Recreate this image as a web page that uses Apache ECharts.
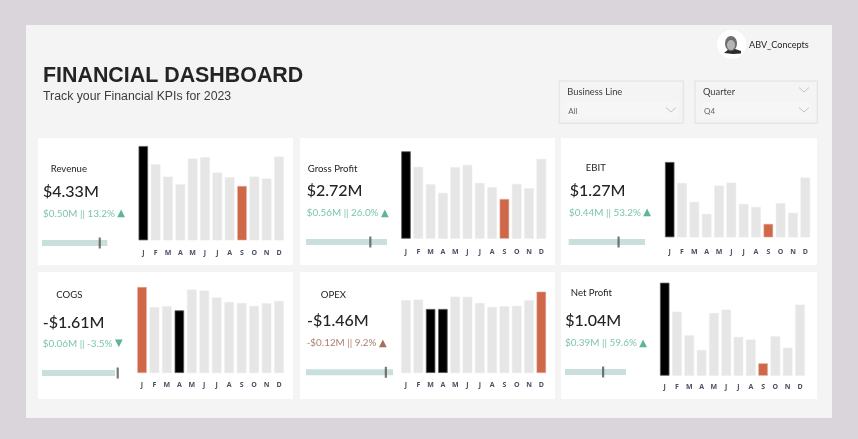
<!DOCTYPE html>
<html>
<head>
<meta charset="utf-8">
<style>html,body{margin:0;padding:0;background:#d9d5da}#c{width:858px;height:439px}</style>
<script src="https://cdn.jsdelivr.net/npm/echarts@6/dist/echarts.min.js"></script>
</head>
<body>
<div id="c"></div>
<script>
const months = ['J','F','M','A','M','J','J','A','S','O','N','D'];
const kpiNames = ['Revenue','Gross Profit','EBIT','COGS','OPEX','Net Profit'];
const kpiValues = ['$4.33M','$2.72M','$1.27M','-$1.61M','-$1.46M','$1.04M'];
const kpiDeltas = ['$0.50M || 13.2%','$0.56M || 26.0%','$0.44M || 53.2%','$0.06M || -3.5%','-$0.12M || 9.2%','$0.39M || 59.6%'];
const kpiArrows = ['▲','▲','▲','▼','▲','▲'];
const revenue = [1.953,1.573,1.318,1.159,1.691,1.718,1.401,1.304,1.125,1.318,1.277,1.732];
const grossProfit = [1.286,1.056,0.800,0.673,1.051,1.085,0.820,0.756,0.584,0.805,0.741,1.173];
const ebit = [0.811,0.585,0.381,0.251,0.556,0.589,0.359,0.327,0.144,0.366,0.262,0.643];
const cogs = [0.663,0.506,0.514,0.483,0.643,0.635,0.581,0.547,0.540,0.517,0.537,0.555];
const opex = [0.480,0.484,0.423,0.423,0.504,0.502,0.462,0.436,0.440,0.443,0.480,0.537];
const netProfit = [0.699,0.481,0.303,0.193,0.471,0.496,0.291,0.271,0.093,0.296,0.210,0.534];
const blackMonths = [[0],[0],[0],[3],[2,3],[0]];
const redMonths = [[8],[8],[8],[0],[11],[8]];
const actual = [4.33,2.72,1.27,1.61,1.46,1.04];
const target = [3.83,2.16,0.83,1.67,1.34,0.65];

const series6 = [revenue,grossProfit,ebit,cogs,opex,netProfit];
const FONT = 'Lato,"Open Sans",sans-serif';
const GREEN = '#7cc5a9', GREENT = '#5cb596', BROWN = '#ab7f70', BROWNT = '#a2705c';

// layout of each card, in pixels
const L = [
 {card:[38,138,255,127],  bar:[138.3,146,145.7,94.3],  lm:9.5, tick:[42,240,65.3],  name:[50.7,169],  val:[43,192],   d:[43,213.7]},
 {card:[300,138,255,127], bar:[401,151.3,145.3,87.4],  lm:10,  tick:[306,239,81],   name:[307.7,169], val:[306.7,191],d:[306.7,213]},
 {card:[561,138,256,127], bar:[664.7,162,145.6,75.3],  lm:11,  tick:[568.7,239,76.3],name:[585.7,168],val:[569.7,190.7],d:[569,212.7]},
 {card:[38,272,255,127],  bar:[137,287,147,86],        lm:8,   tick:[42,370,73],    name:[56.3,295.3],val:[42.7,323], d:[42.7,343.7]},
 {card:[300,272,255,127], bar:[401,291.7,145.3,81.3],  lm:8,   tick:[306,369.3,87], name:[320.7,295.3],val:[307,321],  d:[306.7,343.3]},
 {card:[561,272,256,127], bar:[659.7,282.7,145.3,93],  lm:7.5, tick:[565,369,61],   name:[570.7,293.3],val:[565.3,320.7],d:[565,343.3]}
];

const grid=[], xAxis=[], yAxis=[], series=[];
const txt=(x,y,t,size,color,extra)=>({type:'text',x,y,z:5,style:Object.assign({text:t,fontSize:size,fill:color,fontFamily:FONT,verticalAlign:'middle',align:'left'},extra||{})});
const graphic=[
 {type:'rect',shape:{x:26,y:25,width:806,height:393},style:{fill:'#f4f4f4'},z:0},
 {type:'text',x:43,y:76.5,z:5,style:{text:'FINANCIAL DASHBOARD',fontSize:21.4,fontWeight:'bold',fill:'#252423',fontFamily:'"Liberation Sans",Arial,sans-serif',verticalAlign:'middle'}},
 {type:'text',x:43,y:96.5,z:5,style:{text:'Track your Financial KPIs for 2023',fontSize:12.3,fill:'#3c3c3c',fontFamily:'"Liberation Sans",Arial,sans-serif',verticalAlign:'middle'}},
 {type:'circle',shape:{cx:731.7,cy:44.3,r:14.5},style:{fill:'#ffffff'},z:1},
 {type:'polygon',shape:{points:[[724,53],[729,49],[735,49],[741,51],[741,53.5],[733,54]]},style:{fill:'#2b2b2b'},z:2},
 {type:'ellipse',shape:{cx:731,cy:43.5,rx:6,ry:7.5},style:{fill:'#6e6e6e'},z:3},
 {type:'ellipse',shape:{cx:731,cy:45,rx:4,ry:5},style:{fill:'#b4b4b4'},z:3},
 txt(749,45,'ABV_Concepts',9.1,'#252423')
];
const chevron=(cx,cy)=>({type:'polyline',z:4,shape:{points:[[cx-5,cy-2.5],[cx,cy+2],[cx+5,cy-2.5]]},style:{stroke:'#c4c4c4',lineWidth:1,fill:null}});
[[559.3,565.3,'Business Line','All',124,112.7,false],[695,701,'Quarter','Q4',122.3,110,true]].forEach(s=>{
  graphic.push({type:'rect',z:1,shape:{x:s[0],y:81,width:s[4],height:42.3},style:{fill:'#f4f4f4',stroke:'#e6e6e6',lineWidth:1.5}});
  graphic.push({type:'rect',z:2,shape:{x:s[1],y:102,width:s[5],height:16.3},style:{fill:'#f6f6f6'}});
  graphic.push(txt(s[0]+8,91.7,s[2],9.3,'#3a3a3a'));
  graphic.push(txt(s[1]+3,111.7,s[3],8,'#666666'));
  graphic.push(chevron(s[1]+s[5]-7,110));
  if(s[6]) graphic.push(chevron(s[1]+s[5]-7,90));
});

const BAR = 10;
L.forEach((c,i)=>{
  graphic.push({type:'rect',z:1,shape:{x:c.card[0],y:c.card[1],width:c.card[2],height:c.card[3]},style:{fill:'#ffffff'}});
  graphic.push(txt(c.name[0],c.name[1],kpiNames[i],9.6,'#252423'));
  graphic.push(txt(c.val[0],c.val[1],kpiValues[i],16,'#252423',{fontWeight:500}));
  const bad = kpiDeltas[i].startsWith('-');
  graphic.push({type:'text',x:c.d[0],y:c.d[1],z:5,style:{
    text:kpiDeltas[i]+' {a|'+kpiArrows[i]+'}',fontSize:9.9,fontFamily:FONT,verticalAlign:'middle',
    fill:bad?BROWN:GREEN,rich:{a:{fontSize:10,fontFamily:'"DejaVu Sans"',fill:bad?BROWNT:GREENT}}}});

  // monthly bars
  const g=grid.length;
  const pitch=(c.bar[2]-BAR)/11;
  grid.push({left:c.bar[0]-(pitch-BAR)/2,top:c.bar[1],width:pitch*12,height:c.bar[3]});
  xAxis.push({type:'category',gridIndex:g,z:3,data:months,axisLine:{show:false},axisTick:{show:false},splitLine:{show:false},
    axisLabel:{interval:0,fontSize:7,fontWeight:'bold',color:'#4a4f63',margin:c.lm,fontFamily:'"Open Sans",sans-serif'}});
  yAxis.push({type:'value',gridIndex:g,min:0,max:Math.max(...series6[i]),show:false,splitLine:{show:false}});
  series.push({type:'bar',xAxisIndex:g,yAxisIndex:g,barWidth:BAR-0.5,silent:true,
    data:series6[i].map((v,m)=>{
      const k=blackMonths[i].includes(m), r=redMonths[i].includes(m);
      return {value:v,itemStyle:k?{color:'#000000',borderColor:'#5a5a5a',borderWidth:0.8}
        :r?{color:'#cf6749',borderColor:'#e6b5a6',borderWidth:0.5}
        :{color:'#e6e6e6',borderColor:'#e9e9e9',borderWidth:0.5}};
    })});

  // bullet: actual bar with target marker
  const b=grid.length;
  const span=Math.max(actual[i],target[i])*1.15;
  grid.push({left:c.tick[0],top:c.tick[1]-3,width:c.tick[2]*span/actual[i],height:12});
  xAxis.push({type:'value',gridIndex:b,min:0,max:span,show:false,splitLine:{show:false}});
  yAxis.push({type:'category',gridIndex:b,data:[kpiNames[i]],show:false});
  series.push({type:'bar',xAxisIndex:b,yAxisIndex:b,barWidth:6,silent:true,data:[actual[i]],itemStyle:{color:'#c9dfdc'}});
  series.push({type:'scatter',xAxisIndex:b,yAxisIndex:b,silent:true,symbol:'rect',symbolSize:[2.2,11],z:4,data:[[target[i],kpiNames[i]]],itemStyle:{color:'#555555'}});
});

const chart=echarts.init(document.getElementById('c'),null,{renderer:'canvas'});
chart.setOption({animation:false,backgroundColor:'#d9d5da',tooltip:{show:false},legend:{show:false},grid,xAxis,yAxis,series,graphic});
</script>
</body>
</html>
